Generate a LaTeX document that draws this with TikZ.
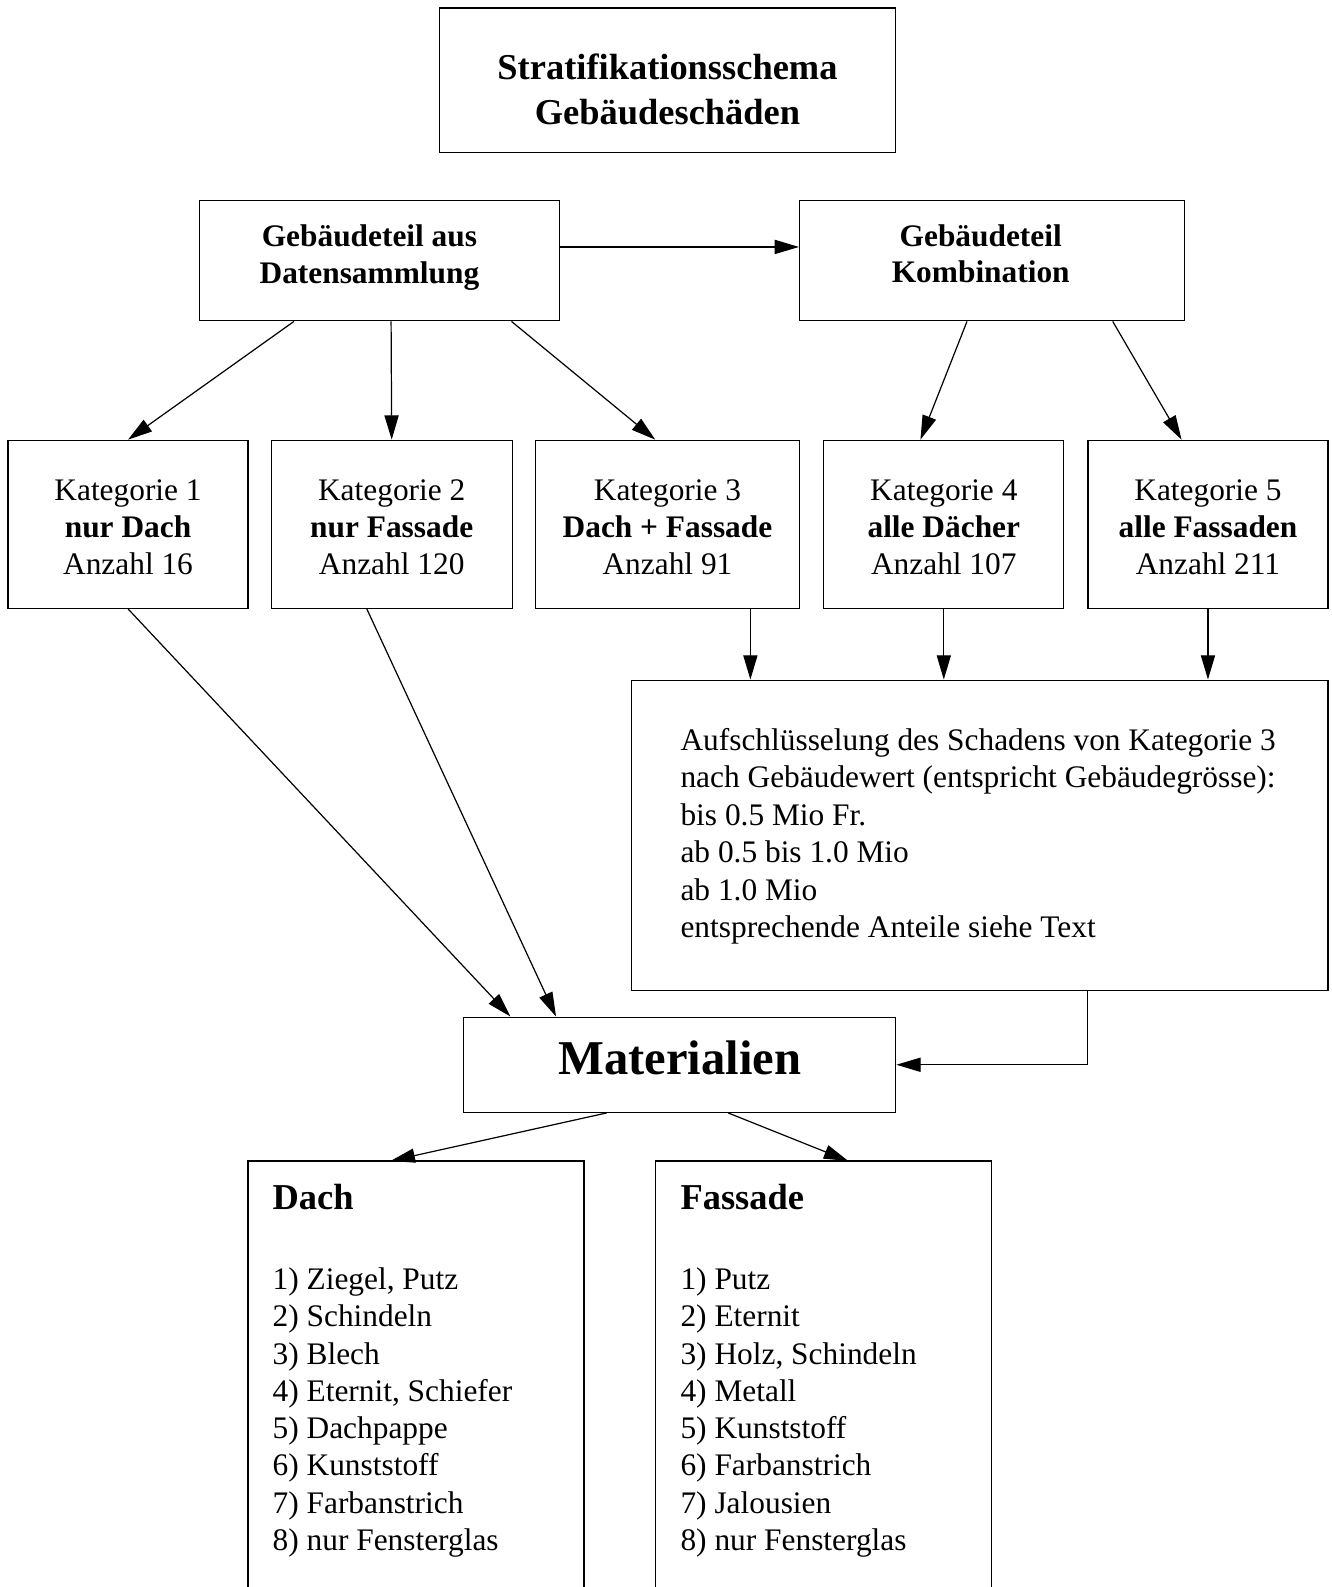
\documentclass[tikz,border=0pt]{standalone}
\usepackage{fontspec}
\setmainfont{Liberation Serif}
\usetikzlibrary{arrows.meta,calc}
\begin{document}
\begin{tikzpicture}[x=0.5pt,y=-0.5pt,
  box/.style={draw,line width=0.6pt,inner sep=0pt,align=center,font=\fontsize{15.5}{18.25}\selectfont},
  txt/.style={inner sep=0pt,align=center},
  arr/.style={line width=0.6pt,-{Triangle[length=12pt,width=7pt]}},
  frame/.style={line width=0.6pt},
  plain/.style={anchor=north west,inner sep=0pt,align=left}]
\useasboundingbox (0,0) rectangle (1316,1568);

\node[box,minimum width=225.5pt,minimum height=71.5pt] (title) at (659.5,79.5) {};
\node[txt,font=\bfseries\fontsize{18}{22}\selectfont] (titletext) at ($(title.center)+(0,9)$) {Stratifikationsschema\\Gebäudeschäden};

\node[box,minimum width=178pt,minimum height=59.5pt] (g1) at (375,257.5) {};
\node[txt,font=\bfseries\fontsize{15.5}{18}\selectfont] (g1text) at ($(g1.center)+(-10,-3)$) {Gebäudeteil aus\\Datensammlung};
\node[box,minimum width=190pt,minimum height=59.5pt] (g2) at (980,257.5) {};
\node[txt,font=\bfseries\fontsize{15.5}{18}\selectfont] (g2text) at ($(g2.center)+(-11,-7)$) {Gebäudeteil\\Kombination};

\node[box,minimum width=118.5pt,minimum height=83pt] (k1) at (126.5,518) {};
\node[txt,font=\fontsize{15.5}{18.25}\selectfont] (k1text) at ($(k1.center)+(0,3)$) {Kategorie 1\\\textbf{nur Dach}\\Anzahl 16};
\node[box,minimum width=119pt,minimum height=83pt] (k2) at (387,518) {};
\node[txt,font=\fontsize{15.5}{18.25}\selectfont] (k2text) at ($(k2.center)+(0,3)$) {Kategorie 2\\\textbf{nur Fassade}\\Anzahl 120};
\node[box,minimum width=130.5pt,minimum height=83pt] (k3) at (659.5,518) {};
\node[txt,font=\fontsize{15.5}{18.25}\selectfont] (k3text) at ($(k3.center)+(0,3)$) {Kategorie 3\\\textbf{Dach + Fassade}\\Anzahl 91};
\node[box,minimum width=118.5pt,minimum height=83pt] (k4) at (932.5,518) {};
\node[txt,font=\fontsize{15.5}{18.25}\selectfont] (k4text) at ($(k4.center)+(0,3)$) {Kategorie 4\\\textbf{alle Dächer}\\Anzahl 107};
\node[box,minimum width=118.5pt,minimum height=83pt] (k5) at (1193.5,518) {};
\node[txt,font=\fontsize{15.5}{18.25}\selectfont] (k5text) at ($(k5.center)+(0,3)$) {Kategorie 5\\\textbf{alle Fassaden}\\Anzahl 211};

\node[box,minimum width=344pt,minimum height=153.5pt] (aufs) at (968,825.5) {};
\node[plain,font=\fontsize{15.5}{18.5}\selectfont] (aufstext) at (672,719) {Aufschlüsselung des Schadens von Kategorie 3\\nach Gebäudewert (entspricht Gebäudegrösse):\\bis 0.5 Mio Fr.\\ab 0.5 bis 1.0 Mio\\ab 1.0 Mio\\entsprechende Anteile siehe Text};

\node[box,minimum width=213.5pt,minimum height=47pt] (mat) at (671.5,1052) {};
\node[txt,font=\bfseries\fontsize{24}{28}\selectfont] (mattext) at ($(mat.center)+(0,-7)$) {Materialien};

\draw[frame] (245,1568) -- (245,1147) -- (577,1147) -- (577,1568);
\draw[frame] (648,1568) -- (648,1147) -- (980,1147) -- (980,1568);
\coordinate (dachtop) at (386,1147);
\coordinate (fasstop) at (838,1147);

\node[plain,font=\fontsize{15.5}{18.4}\selectfont] (dachtext) at (269,1170) {{\bfseries\fontsize{18}{18.4}\selectfont Dach}\\[21pt]1) Ziegel, Putz\\2) Schindeln\\3) Blech\\4) Eternit, Schiefer\\5) Dachpappe\\6) Kunststoff\\7) Farbanstrich\\8) nur Fensterglas};
\node[plain,font=\fontsize{15.5}{18.4}\selectfont] (fasstext) at (672,1170) {{\bfseries\fontsize{18}{18.4}\selectfont Fassade}\\[21pt]1) Putz\\2) Eternit\\3) Holz, Schindeln\\4) Metall\\5) Kunststoff\\6) Farbanstrich\\7) Jalousien\\8) nur Fensterglas};

\draw[arr] ($(g1.east)+(0,-13.5)$) -- ($(g2.west)+(0,-13.5)$);
\draw[arr] ($(g1.south west)+(94,0)$) -- (k1.north);
\draw[arr] ($(g1.south west)+(190,0)$) -- (k2.north);
\draw[arr] ($(g1.south west)+(309,0)$) -- ($(k3.north west)+(119,0)$);
\draw[arr] ($(g2.south west)+(166,0)$) -- ($(k4.north west)+(96,0)$);
\draw[arr] ($(g2.south west)+(310,0)$) -- ($(k5.north west)+(93,0)$);

\coordinate (k3o) at ($(k3.south west)+(213,0)$);
\draw[arr] (k3o) -- (k3o |- aufs.north);
\draw[arr] (k4.south) -- (k4.south |- aufs.north);
\draw[arr] (k5.south) -- (k5.south |- aufs.north);

\draw[arr] (k1.south) -- ($(mat.north west)+(47,0)$);
\draw[arr] ($(k2.south west)+(95,0)$) -- ($(mat.north west)+(92,0)$);
\draw[arr] ($(aufs.south west)+(451,0)$) |- (mat.east);

\draw[arr] ($(mat.south west)+(142,0)$) -- (dachtop);
\draw[arr] ($(mat.south west)+(262,0)$) -- (fasstop);
\end{tikzpicture}
\end{document}
